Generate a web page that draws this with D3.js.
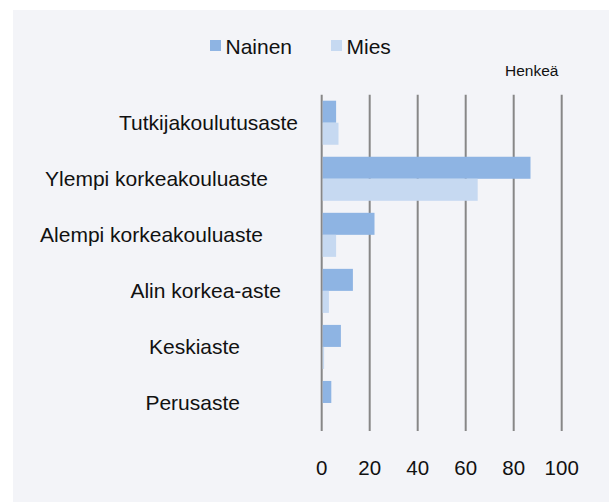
<!DOCTYPE html>
<html>
<head>
<meta charset="utf-8">
<script src="https://cdn.jsdelivr.net/npm/d3@7"></script>
<style>
  body { margin: 0; background: #fff; }
  text { font-family: "Liberation Sans", Arial, sans-serif; fill: #111; }
</style>
</head>
<body>
<svg width="612" height="502"></svg>
<script>
// data
const categories = ["Tutkijakoulutusaste", "Ylempi korkeakouluaste", "Alempi korkeakouluaste",
  "Alin korkea-aste", "Keskiaste", "Perusaste"];
const nainen = [6, 87, 22, 13, 8, 4];
const mies = [7, 65, 6, 3, 1, 0];
const seriesNames = ["Nainen", "Mies"];
const ticks = [0, 20, 40, 60, 80, 100];

// layout
const svg = d3.select("svg");
const colors = ["#8eb4e3", "#c6d9f1"];
const x0 = 321.7, x1 = 561.7, yTop = 94.7, yBot = 431;
// category labels are not aligned the same way in the original, right edge of each
const labelEnd = [298, 268, 263, 281, 240, 240];

svg.append("rect")
  .attr("x", 13).attr("y", 10)
  .attr("width", 596).attr("height", 492)
  .attr("fill", "#f3f4f8");

const x = d3.scaleLinear().domain([0, 100]).range([x0, x1]);
const y = d3.scaleBand().domain(categories).range([yTop, yBot]).paddingInner(12 / 56).paddingOuter(6 / 56);
const ySub = d3.scaleBand().domain(seriesNames).range([0, y.bandwidth()]);

// gridlines
svg.append("g").selectAll("line")
  .data(ticks)
  .enter().append("line")
    .attr("x1", d => x(d)).attr("x2", d => x(d))
    .attr("y1", yTop).attr("y2", yBot)
    .attr("stroke", "#878787")
    .attr("stroke-width", 2);

// bars
const rows = categories.map((c, i) => ({ cat: c, vals: [nainen[i], mies[i]] }));
const grp = svg.append("g").selectAll("g")
  .data(rows)
  .enter().append("g")
    .attr("transform", d => `translate(0,${y(d.cat)})`);

grp.selectAll("rect")
  .data(d => d.vals.map((v, j) => ({ s: seriesNames[j], v, j })))
  .enter().append("rect")
    .attr("x", x(0) + 1)
    .attr("y", d => ySub(d.s))
    .attr("width", d => Math.max(0, x(d.v) - x(0) - 1))
    .attr("height", ySub.bandwidth())
    .attr("fill", d => colors[d.j]);

// category labels
svg.append("g").selectAll("text")
  .data(categories)
  .enter().append("text")
    .attr("x", (d, i) => labelEnd[i])
    .attr("y", d => y(d) + y.bandwidth() / 2 + 7.5)
    .attr("text-anchor", "end")
    .attr("font-size", 21)
    .text(d => d);

// tick labels
svg.append("g").selectAll("text")
  .data(ticks)
  .enter().append("text")
    .attr("x", d => x(d))
    .attr("y", 475)
    .attr("text-anchor", "middle")
    .attr("font-size", 20.5)
    .text(d => d);

// unit label
svg.append("text")
  .attr("x", 505).attr("y", 76)
  .attr("font-size", 15.5)
  .text("Henkeä");

// legend
const legendX = [210, 331];
const leg = svg.append("g").selectAll("g")
  .data(seriesNames)
  .enter().append("g")
    .attr("transform", (d, i) => `translate(${legendX[i]},40)`);

leg.append("rect")
  .attr("width", 11).attr("height", 11)
  .attr("fill", (d, i) => colors[i]);

leg.append("text")
  .attr("x", 15.5).attr("y", 13.5)
  .attr("font-size", 21)
  .text(d => d);
</script>
</body>
</html>
